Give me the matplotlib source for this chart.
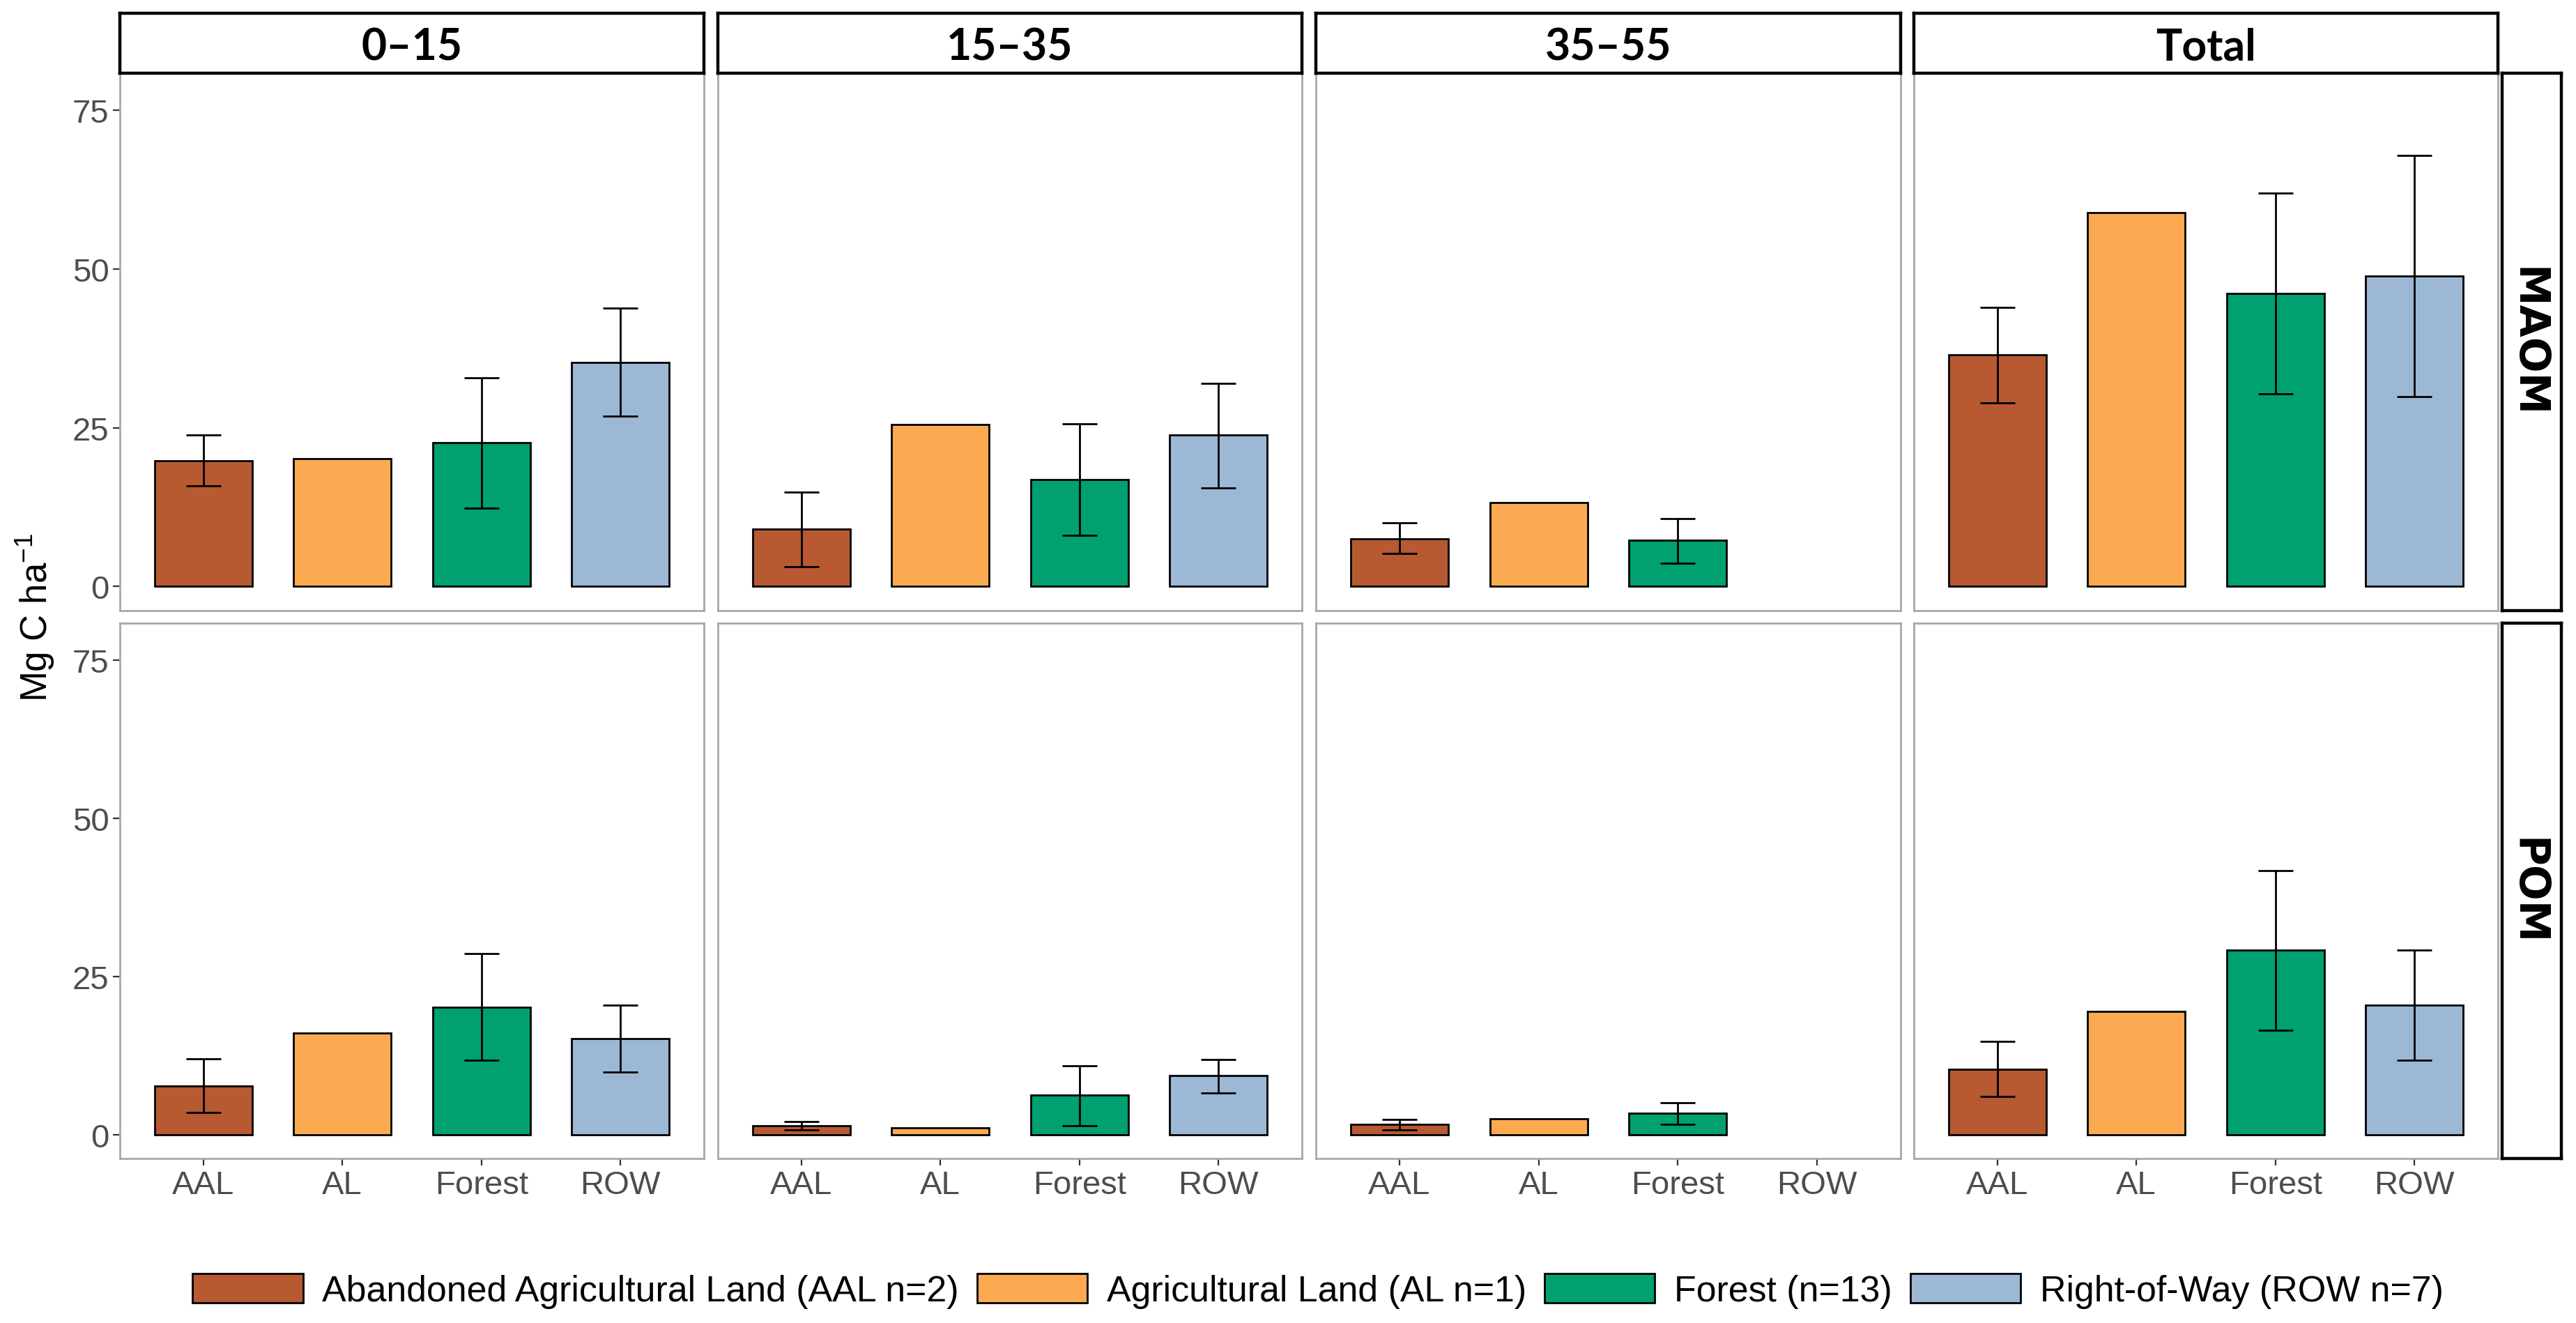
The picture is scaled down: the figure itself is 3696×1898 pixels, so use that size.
import numpy as np
import matplotlib
matplotlib.use('Agg')
import matplotlib.pyplot as plt
from matplotlib.patches import Patch

nan = np.nan

# categories / facets
land_uses = ['AAL', 'AL', 'Forest', 'ROW']
depths = ['0–15', '15–35', '35–55', 'Total']
fractions = ['MAOM', 'POM']
legend_labels = ['Abandoned Agricultural Land (AAL n=2)', 'Agricultural Land (AL n=1)',
                 'Forest (n=13)', 'Right-of-Way (ROW n=7)']
colors = ['#B75A31', '#FCAA51', '#00A070', '#9DB8D5']

# Mg C ha-1, one row per depth, columns follow land_uses
maom_mean = [[19.8, 20.1, 22.6, 35.3],
             [9.0, 25.5, 16.8, 23.8],
             [7.5, 13.2, 7.3, nan],
             [36.5, 58.9, 46.1, 48.9]]
maom_lo = [[15.8, nan, 12.3, 26.8],
           [3.1, nan, 8.0, 15.5],
           [5.2, nan, 3.7, nan],
           [28.9, nan, 30.3, 29.9]]
maom_hi = [[23.9, nan, 32.9, 43.8],
           [14.9, nan, 25.6, 32.0],
           [10.0, nan, 10.7, nan],
           [43.9, nan, 61.9, 67.9]]

pom_mean = [[7.7, 16.0, 20.1, 15.1],
            [1.4, 1.1, 6.2, 9.3],
            [1.6, 2.5, 3.4, nan],
            [10.3, 19.4, 29.1, 20.4]]
pom_lo = [[3.5, nan, 11.7, 9.9],
          [0.7, nan, 1.4, 6.6],
          [0.7, nan, 1.6, nan],
          [6.0, nan, 16.5, 11.7]]
pom_hi = [[11.9, nan, 28.6, 20.4],
          [2.0, nan, 10.8, 11.8],
          [2.4, nan, 5.0, nan],
          [14.7, nan, 41.7, 29.1]]

y_ticks = [0, 25, 50, 75]

plt.rcParams['font.family'] = ['Liberation Sans', 'DejaVu Sans']
plt.rcParams['mathtext.fontset'] = 'custom'
plt.rcParams['mathtext.rm'] = 'Liberation Sans'

W, H = 3696, 1899
fig = plt.figure(figsize=(W / 200, H / 200), dpi=200)


def box(x0, x1, y0, y1):
    # pixel box (top-left origin) -> figure fraction rect
    return [x0 / W, 1 - y1 / H, (x1 - x0) / W, (y1 - y0) / H]


col_px = [(172, 1010), (1030, 1868), (1888, 2727), (2746, 3584)]
row_px = [(106, 877), (895, 1663)]

data = {'MAOM': (maom_mean, maom_lo, maom_hi), 'POM': (pom_mean, pom_lo, pom_hi)}
grey = '#4D4D4D'

for r, frac in enumerate(fractions):
    means, los, his = data[frac]
    for c, depth in enumerate(depths):
        ax = fig.add_axes(box(col_px[c][0], col_px[c][1], row_px[r][0], row_px[r][1]))
        m = np.array(means[c], dtype=float)
        lo = np.array(los[c], dtype=float)
        hi = np.array(his[c], dtype=float)
        x = np.arange(len(land_uses))
        ok = ~np.isnan(m)
        ax.bar(x[ok], m[ok], width=0.7, color=[colors[i] for i in x[ok]],
               edgecolor='black', linewidth=1.0, zorder=2)
        ax.errorbar(x, m, yerr=[m - lo, hi - m], fmt='none', ecolor='black',
                    elinewidth=1.0, capsize=9, capthick=1.0, zorder=3)
        ax.set_xlim(-0.6, 3.6)
        ax.set_ylim(-3.8, 80.8)
        ax.set_xticks(x)
        ax.set_yticks(y_ticks)
        for s in ax.spines.values():
            s.set_color('#A8A8A8')
            s.set_linewidth(1.0)
        ax.tick_params(length=3.6, width=0.8, color='#333333', labelcolor=grey,
                       labelsize=17, pad=2)
        if r == len(fractions) - 1:
            ax.set_xticklabels(land_uses)
        else:
            ax.tick_params(axis='x', length=0, labelbottom=False)
        if c != 0:
            ax.tick_params(axis='y', length=0, labelleft=False)

        # column strip
        if r == 0:
            sx = fig.add_axes(box(col_px[c][0], col_px[c][1], 20, 106))
            sx.set_xticks([]); sx.set_yticks([])
            for s in sx.spines.values():
                s.set_color('black'); s.set_linewidth(1.6)
            sx.text(0.5, 0.5, depth, ha='center', va='center_baseline', fontsize=22.5,
                    fontweight='bold', family=['Lato', 'DejaVu Sans'], transform=sx.transAxes)

    # row strip
    sy = fig.add_axes(box(3590, 3675, row_px[r][0], row_px[r][1]))
    sy.set_xticks([]); sy.set_yticks([])
    for s in sy.spines.values():
        s.set_color('black'); s.set_linewidth(1.6)
    sy.text(0.5, 0.5, frac, ha='center', va='center_baseline', rotation=-90,
            rotation_mode='anchor', fontsize=21.5, fontweight='bold',
            family=['DejaVu Sans'], transform=sy.transAxes)

fig.text(50 / W, 1 - 886 / H, r'Mg C ha$^{-1}$', rotation=90, ha='center', va='center',
         fontsize=19, color='black')

handles = [Patch(facecolor=col, edgecolor='black', linewidth=1.0) for col in colors]
fig.legend(handles, legend_labels, loc='center', bbox_to_anchor=(1891 / W, 1 - 1853 / H),
           ncol=4, frameon=False, fontsize=18.7, handlelength=3.05, handleheight=0.87,
           handletextpad=0.53, columnspacing=0.5)

fig.savefig('out.png', dpi=200, facecolor='white')
